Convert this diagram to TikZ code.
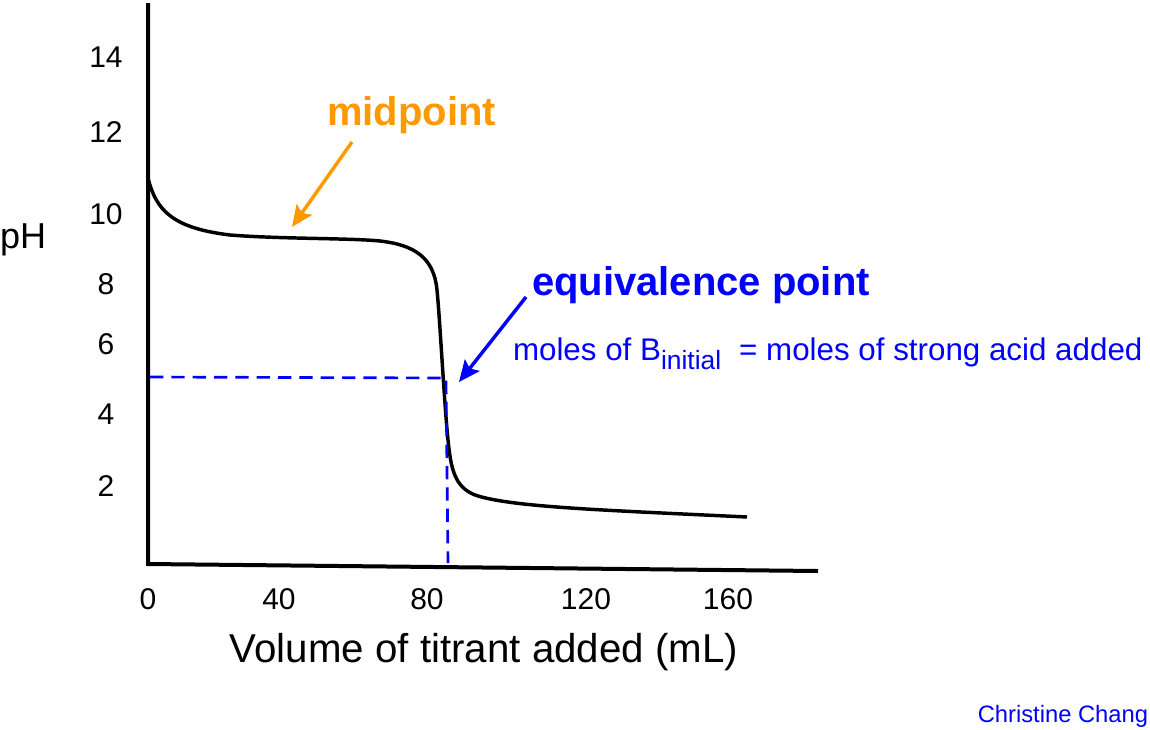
\documentclass[tikz,border=0pt]{standalone}
\usepackage{fontspec}
\setmainfont{Liberation Sans}
\usetikzlibrary{arrows.meta}
\definecolor{midorange}{RGB}{255,153,0}
\definecolor{eqblue}{RGB}{0,0,255}

\begin{document}
\begin{tikzpicture}[x=0.75pt,y=0.75pt,yscale=-1,
  lbl/.style={inner sep=0pt,outer sep=0pt},
  ticklbl/.style={lbl,font=\fontsize{22.5}{27}\selectfont},
  pointer/.style={line width=2.6pt,-{Stealth[length=16pt,width=14pt,inset=3pt]}}]
\useasboundingbox (0,0) rectangle (1150,729);

%Shape: Axis 2D
\coordinate (top) at (148,3);
\coordinate (origin) at (148,564);
\coordinate (xend) at (818,571);
\draw[line width=3pt] (top) -- (origin) -- (xend);

%Curve Lines
\draw[line width=2.6pt] (148,178) .. controls (156,210) and (172,228) .. (230,235)
  .. controls (280,239) and (350,238) .. (380,241)
  .. controls (415,245) and (434,258) .. (437,290)
  .. controls (440,320) and (444,400) .. (448,440)
  .. controls (451,470) and (455,487) .. (475,495)
  .. controls (510,507) and (600,510) .. (747,517);

%Dashed guides
\coordinate (ph5) at (150,377);
\coordinate (eq) at (446,378);
\coordinate (v85) at (448,563);
\draw[eqblue,line width=2pt,dash pattern=on 10pt off 6pt] (ph5) -- (eq) -- (v85);

% Tick labels
\foreach \v/\y in {14/57,12/132,10/214,8/284,6/344,4/414,2/486}
  \node[ticklbl] (y\v) at (106,\y) {\v};
\foreach \v/\x in {0/148,40/279,80/427,120/586,160/728}
  \node[ticklbl] (x\v) at (\x,599) {\v};

% Text Node
\node[lbl,anchor=base west,font=\fontsize{27}{32}\selectfont] (ph) at (0,248) {pH};
% Text Node
\node[lbl,anchor=base,font=\fontsize{30.2}{36}\selectfont] (vol) at (484,662) {Volume of titrant added (mL)};
% Text Node
\node[lbl,anchor=base west,text=midorange,font=\fontsize{30}{36}\selectfont\bfseries] (mid) at (327,125) {midpoint};
% Text Node
\node[lbl,anchor=base west,text=eqblue,font=\fontsize{30}{36}\selectfont\bfseries] (eqv) at (532,295) {equivalence point};
% Text Node
\node[lbl,anchor=base west,text=eqblue,font=\fontsize{23.5}{28}\selectfont] (moles) at (513,360)
  {moles of B\raisebox{-6.75pt}{\fontsize{19.8}{22}\selectfont initial}\hspace{13.5pt}= moles of strong acid added};
% Text Node
\node[lbl,anchor=base east,text=eqblue,font=\fontsize{17.8}{21}\selectfont] (credit) at (1148,722) {Christine Chang};

%Arrows
\coordinate (midtail) at (352,142);
\coordinate (midtip) at (292,227);
\draw[pointer,midorange] (midtail) -- (midtip);
\coordinate (eqtail) at (526,297);
\coordinate (eqtip) at (459,382);
\draw[pointer,eqblue] (eqtail) -- (eqtip);

\end{tikzpicture}
\end{document}
